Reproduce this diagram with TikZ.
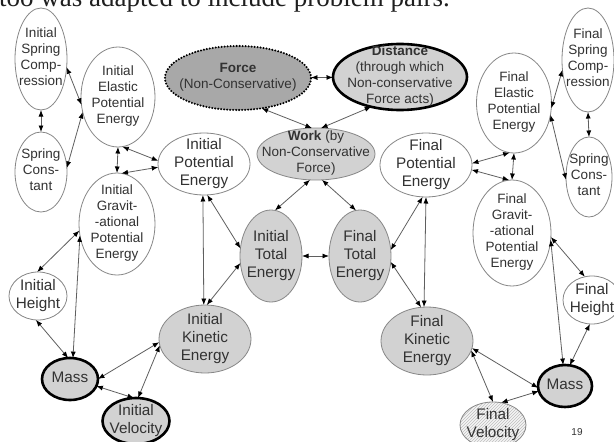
\documentclass[tikz,border=0pt]{standalone}
\usepackage{fontspec}
\setmainfont{Liberation Sans}
\newfontfamily\hdrfont{Liberation Serif}
\usetikzlibrary{shapes.geometric,arrows.meta,patterns}
\definecolor{fillA}{RGB}{210,210,210}
\definecolor{fillF}{RGB}{168,168,168}
\definecolor{txt}{RGB}{50,50,50}
\definecolor{edgec}{RGB}{95,95,95}
\definecolor{bord}{RGB}{135,135,135}
\newcommand\fontA{\fontsize{13.5}{16}\selectfont}
\newcommand\fontB{\fontsize{15.3}{18}\selectfont}
\newcommand\tx[1]{\smash{\makebox[0pt]{\raisebox{-0.25em}{\begin{tabular}{@{}c@{}}#1\end{tabular}}}}}
\begin{document}
\begin{tikzpicture}[x=1pt,y=-1pt,
  ell/.style 2 args={ellipse, draw=bord, line width=0.8pt, fill=white, inner sep=0pt, outer sep=0pt,
    minimum width=#1pt, minimum height=#2pt, text=txt, font=\fontA},
  big/.style={font=\fontB},
  shaded/.style={fill=fillA},
  heavy/.style={draw=black, line width=2.6pt, fill=fillA},
  dotb/.style={draw=black, line width=2.3pt, line cap=round, dash pattern=on 0pt off 3pt, fill=fillF},
  hatch/.style={preaction={fill=gray!8}, pattern=north east lines, pattern color=gray!50},
  lk/.style={draw=edgec, line width=0.8pt,
    {Latex[length=6.5pt,width=5pt,color=black]}-{Latex[length=6.5pt,width=5pt,color=black]}}
]
\useasboundingbox (0,0) rectangle (614,442);
\clip (0,0) rectangle (614,442);
\fill[white] (0,0) rectangle (614,442);

\node[anchor=base west, inner sep=0pt, font=\hdrfont\fontsize{27}{30}\selectfont, text=black!88] (hdr) at (-1,6) {too was adapted to include problem pairs.};

% left side
\node[ell={52}{102}] (isc) at (41,59) {\tx{Initial\\Spring\\Comp-\\ression}};
\node[ell={52}{80}] (scl) at (41,172) {\tx{Spring\\Cons-\\tant}};
\node[ell={74}{100}] (iepe) at (118,97) {\tx{Initial\\Elastic\\Potential\\Energy}};
\node[ell={76}{102}] (igpe) at (117,224) {\tx{Initial\\Gravit-\\-ational\\Potential\\Energy}};
\node[ell={92}{62},big] (ipe) at (204,164) {\tx{Initial\\Potential\\Energy}};
\node[ell={58}{48},big] (ih) at (38,296) {\tx{Initial\\Height}};
\node[ell={56}{42},big,heavy] (ml) at (70,379) {\tx{Mass}};
\node[ell={67}{46},big,heavy] (iv) at (136,421) {\tx{Initial\\Velocity}};
\node[ell={92}{68},big,shaded] (ike) at (205,339) {\tx{Initial\\Kinetic\\Energy}};

% centre
\node[ell={146}{64},dotb] (force) at (238,78) {\tx{\textbf{Force}\\(Non-Conservative)}};
\node[ell={134}{66},heavy] (dist) at (400,77) {\tx{\textbf{Distance}\\(through which\\Non-conservative\\Force acts)}};
\node[ell={118}{52},shaded] (work) at (316,154) {\tx{\textbf{Work} (by\\Non-Conservative\\Force)}};
\node[ell={62}{92},big,shaded] (ite) at (271,256) {\tx{Initial\\Total\\Energy}};
\node[ell={62}{92},big,shaded] (fte) at (360,256) {\tx{Final\\Total\\Energy}};

% right side
\node[ell={92}{64},big] (fpe) at (426,165) {\tx{Final\\Potential\\Energy}};
\node[ell={75}{100}] (fepe) at (514,103) {\tx{Final\\Elastic\\Potential\\Energy}};
\node[ell={52}{104}] (fsc) at (588,60) {\tx{Final\\Spring\\Comp-\\ression}};
\node[ell={46}{80}] (scr) at (589,177) {\tx{Spring\\Cons-\\tant}};
\node[ell={78}{106}] (fgpe) at (512,233) {\tx{Final\\Gravit-\\-ational\\Potential\\Energy}};
\node[ell={58}{48},big] (fh) at (592,300) {\tx{Final\\Height}};
\node[ell={54}{42},big,heavy] (mr) at (565,386) {\tx{Mass}};
\node[ell={66}{46},big,hatch] (fv) at (493,425) {\tx{Final\\Velocity}};
\node[ell={92}{68},big,shaded] (fke) at (427,341) {\tx{Final\\Kinetic\\Energy}};

\node[inner sep=0pt, font=\fontsize{10}{12}\selectfont, text=txt] (pg) at (577,432) {19};

% connectors left
\draw[lk] (isc.south) -- (scl.north);
\draw[lk] (isc.-18) -- (iepe.192);
\draw[lk] (scl.9) -- (iepe.203);
\draw[lk] (iepe.south) -- (igpe.north);
\draw[lk] (iepe.275) -- (ipe.176);
\draw[lk] (igpe.85) -- (ipe.184);
\draw[lk] (igpe.190) -- (ih.92);
\draw[lk] (igpe.197) -- (ml.82);
\draw[lk] (ih.265) -- (ml.95);
\draw[lk] (ml.0) -- (ike.184);
\draw[lk] (ml.-15) -- (iv.95);
\draw[lk] (ike.188) -- (iv.85);
\draw[lk] (ipe.268) -- (ike.92);
\draw[lk] (ipe.276) -- (ite.166);
\draw[lk] (ite.193) -- (ike.87);

% connectors centre
\draw[lk] (force) -- (dist);
\draw[lk] (force.-52) -- (work.99);
\draw[lk] (dist.226) -- (work.79);
\draw[lk] (work.257) -- (ite.85);
\draw[lk] (work.283) -- (fte.95);
\draw[lk] (ite.east) -- (fte.west);

% connectors right
\draw[lk] (fpe.264) -- (fte.11);
\draw[lk] (fpe.270) -- (fke.95);
\draw[lk] (fte.349) -- (fke.100);
\draw[lk] (fepe.265) -- (fpe.2);
\draw[lk] (fgpe.93) -- (fpe.-6);
\draw[lk] (fepe.south) -- (fgpe.north);
\draw[lk] (fepe.-8) -- (fsc.201);
\draw[lk] (fepe.-18) -- (scr.187);
\draw[lk] (fsc.south) -- (scr.north);
\draw[lk] (fgpe.-6) -- (fh.107);
\draw[lk] (fgpe.-10) -- (mr.95);
\draw[lk] (fh.265) -- (mr.77);
\draw[lk] (fke.-9) -- (mr.184);
\draw[lk] (fke.-12) -- (fv.90);
\draw[lk] (mr.191) -- (fv.70);
\end{tikzpicture}
\end{document}
